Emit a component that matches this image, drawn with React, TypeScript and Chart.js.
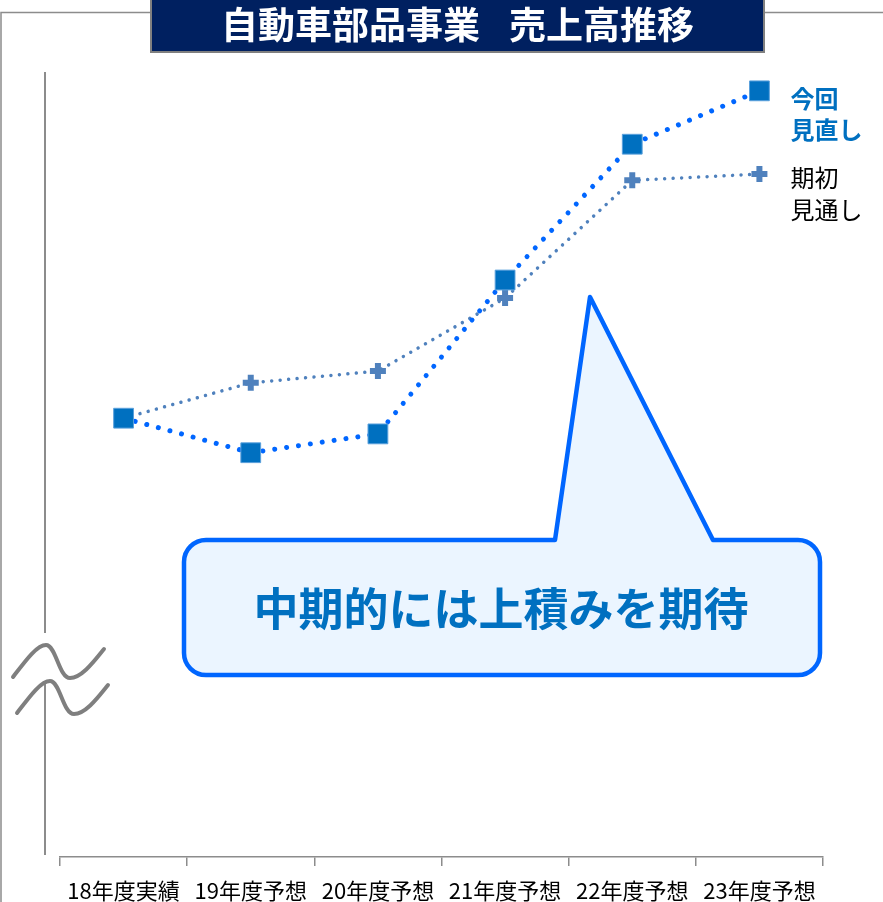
import { useEffect, useRef } from 'react';
import { Chart, registerables } from 'chart.js';

Chart.register(...registerables);

const categories = ['18年度実績', '19年度予想', '20年度予想', '21年度予想', '22年度予想', '23年度予想'];
const revisedValues = [55.9, 51.5, 53.9, 73.5, 90.8, 97.6];
const initialValues = [55.9, 60.4, 61.9, 71.2, 86.2, 87.0];
const revisedLabel = ['今回', '見直し'];
const initialLabel = ['期初', '見通し'];
const titleParts = ['自動車部品事業', '売上高推移'];
const calloutText = '中期的には上積みを期待';

const FONT = '"Noto Sans CJK JP", "Noto Sans", sans-serif';
const W = 883;
const H = 902;

function squiggle(ctx: CanvasRenderingContext2D, dx: number, dy: number) {
  ctx.beginPath();
  ctx.moveTo(13 + dx, 677 + dy);
  ctx.bezierCurveTo(26 + dx, 660 + dy, 37 + dx, 645 + dy, 46 + dx, 645 + dy);
  ctx.bezierCurveTo(56 + dx, 645 + dy, 59 + dx, 678 + dy, 70 + dx, 678 + dy);
  ctx.bezierCurveTo(82 + dx, 678 + dy, 95 + dx, 660 + dy, 104 + dx, 649 + dy);
  ctx.stroke();
}

const overlayPlugin = {
  id: 'overlay',
  beforeDraw(chart: any) {
    const { ctx, chartArea } = chart;
    ctx.save();
    // outer frame
    ctx.strokeStyle = '#8c8c8c';
    ctx.lineWidth = 1.5;
    ctx.beginPath();
    ctx.moveTo(1, H);
    ctx.lineTo(1, 12.5);
    ctx.lineTo(W, 12.5);
    ctx.stroke();
    // title box
    ctx.fillStyle = '#002060';
    ctx.fillRect(151, -2, 613, 54);
    ctx.strokeStyle = '#808080';
    ctx.lineWidth = 2;
    ctx.strokeRect(151, -2, 613, 54);
    ctx.fillStyle = '#ffffff';
    ctx.font = `bold 37px ${FONT}`;
    ctx.textBaseline = 'middle';
    ctx.textAlign = 'right';
    ctx.fillText(titleParts[0], 480, 25);
    ctx.textAlign = 'left';
    ctx.fillText(titleParts[1], 509, 25);
    // y axis with break
    ctx.strokeStyle = '#8c8c8c';
    ctx.lineWidth = 2;
    ctx.beginPath();
    ctx.moveTo(45, chartArea.top);
    ctx.lineTo(45, 633);
    ctx.moveTo(45, 682);
    ctx.lineTo(45, chartArea.bottom - 2);
    ctx.stroke();
    // break marks
    ctx.strokeStyle = '#7f7f7f';
    ctx.lineWidth = 4;
    ctx.lineCap = 'round';
    squiggle(ctx, 0, 0);
    squiggle(ctx, 4, 36);
    ctx.restore();
  },
  afterDraw(chart: any) {
    const { ctx } = chart;
    ctx.save();
    // series labels at line ends
    const m0 = chart.getDatasetMeta(0);
    const m1 = chart.getDatasetMeta(1);
    const p0 = m0.data[m0.data.length - 1];
    const p1 = m1.data[m1.data.length - 1];
    ctx.textAlign = 'left';
    ctx.textBaseline = 'middle';
    ctx.font = `bold 24px ${FONT}`;
    ctx.fillStyle = '#0070C0';
    ctx.fillText(revisedLabel[0], p0.x + 31, p0.y + 8);
    ctx.fillText(revisedLabel[1], p0.x + 31, p0.y + 39);
    ctx.font = `24px ${FONT}`;
    ctx.fillStyle = '#000000';
    ctx.fillText(initialLabel[0], p1.x + 31, p1.y + 4);
    ctx.fillText(initialLabel[1], p1.x + 31, p1.y + 36);

    // callout
    const l = 184, r = 820, t = 540, b = 675, rad = 22;
    ctx.beginPath();
    ctx.moveTo(l + rad, t);
    ctx.lineTo(555, t);
    ctx.lineTo(590, 297);
    ctx.lineTo(713, t);
    ctx.lineTo(r - rad, t);
    ctx.arcTo(r, t, r, t + rad, rad);
    ctx.lineTo(r, b - rad);
    ctx.arcTo(r, b, r - rad, b, rad);
    ctx.lineTo(l + rad, b);
    ctx.arcTo(l, b, l, b - rad, rad);
    ctx.lineTo(l, t + rad);
    ctx.arcTo(l, t, l + rad, t, rad);
    ctx.closePath();
    ctx.fillStyle = '#EBF5FF';
    ctx.fill();
    ctx.strokeStyle = '#0066FF';
    ctx.lineWidth = 4.5;
    ctx.lineJoin = 'round';
    ctx.stroke();
    ctx.fillStyle = '#0070C0';
    ctx.font = `bold 45px ${FONT}`;
    ctx.textAlign = 'center';
    ctx.textBaseline = 'middle';
    ctx.fillText(calloutText, 501, 609);
    ctx.restore();
  },
};

export default function App() {
  const ref = useRef<HTMLCanvasElement | null>(null);

  useEffect(() => {
    document.body.style.margin = '0';
    const canvas = ref.current;
    if (!canvas) return;
    const chart = new Chart(canvas, {
      type: 'line',
      data: {
        labels: categories,
        datasets: [
          {
            label: revisedLabel.join(''),
            data: revisedValues,
            borderColor: '#0066FF',
            borderWidth: 5,
            borderDash: [0.001, 12],
            borderCapStyle: 'round',
            fill: false,
            tension: 0,
            pointStyle: 'rect',
            pointRadius: 14,
            pointBackgroundColor: '#0070C0',
            pointBorderColor: '#5aa0dc',
            pointBorderWidth: 1,
          },
          {
            label: initialLabel.join(''),
            data: initialValues,
            borderColor: '#4F81BD',
            borderWidth: 3.5,
            borderDash: [0.001, 8.5],
            borderCapStyle: 'round',
            fill: false,
            tension: 0,
            pointStyle: 'cross',
            pointRadius: 8,
            pointBackgroundColor: '#4F81BD',
            pointBorderColor: '#4F81BD',
            pointBorderWidth: 6,
          },
        ],
      },
      options: {
        animation: false,
        responsive: true,
        maintainAspectRatio: false,
        events: [],
        layout: { padding: { top: 72, left: 60, right: 60, bottom: 0 } },
        plugins: {
          legend: { display: false },
          title: { display: false },
          tooltip: { enabled: false },
        },
        scales: {
          x: {
            type: 'category',
            offset: true,
            afterFit: (scale: any) => {
              scale.height = 45;
            },
            grid: {
              display: true,
              offset: true,
              drawOnChartArea: false,
              drawTicks: true,
              tickLength: 9,
              color: '#8c8c8c',
              lineWidth: 1.5,
            },
            border: { display: true, color: '#8c8c8c', width: 1.5 },
            ticks: {
              color: '#000000',
              padding: 11,
              maxRotation: 0,
              autoSkip: false,
              font: { family: FONT, size: 22 },
            },
          },
          y: {
            display: false,
            min: 0,
            max: 100,
          },
        },
      },
      plugins: [overlayPlugin],
    } as any);
    return () => chart.destroy();
  }, []);

  return (
    <div style={{ position: 'absolute', left: 0, top: 0, width: W, height: H, background: '#fff' }}>
      <canvas ref={ref} />
    </div>
  );
}
